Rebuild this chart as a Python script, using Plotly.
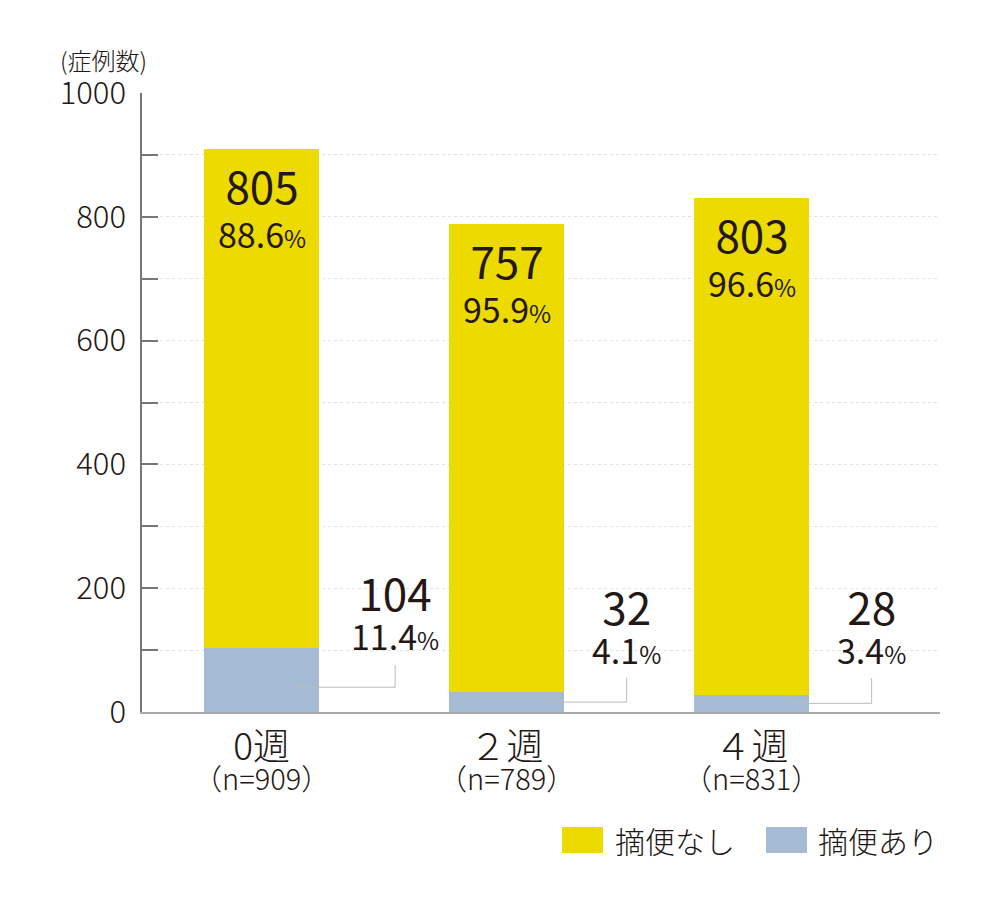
import plotly.graph_objects as go

# ---- data ----
categories = ["0週", "２週", "４週"]
n_total = [909, 789, 831]
no_vals = [805, 757, 803]          # 摘便なし
no_pct = ["88.6", "95.9", "96.6"]
yes_vals = [104, 32, 28]           # 摘便あり
yes_pct = ["11.4", "4.1", "3.4"]
y_tick_vals = list(range(0, 1001, 100))
y_tick_text = [str(v) if v % 200 == 0 else "" for v in y_tick_vals]
series_names = ["摘便なし", "摘便あり"]

# ---- style ----
YELLOW = "#EDDA00"
BLUE = "#A5BBD3"
TXT = "#231815"
FONT = "Noto Sans CJK JP"
W, H = 1000, 900
OFF = 8                              # page offset of the figure
L, T = 142 - OFF, 93 - OFF
PW, PH = 798, 619
R, B = W - L - PW, H - T - PH
BAR_W = 0.47
label_dx = [0.545, 0.49, 0.49]      # horizontal offset of outside labels
label_bottom = [81, 58, 58]         # y where outside label bottom sits
leader_top = [76, 55, 55]
leader_y = [40, 16, 14]
leader_x0 = 0.145

xs = list(range(len(categories)))
tick_labels = [f"<span style='font-size:37px'>{c}</span><br><span style='font-size:29px'>（n={n}）</span>"
               for c, n in zip(categories, n_total)]

fig = go.Figure()
fig.add_trace(go.Bar(x=xs, y=yes_vals, name=series_names[1], marker=dict(color=BLUE, line=dict(width=0)),
                     width=BAR_W, showlegend=False, hoverinfo="skip"))
fig.add_trace(go.Bar(x=xs, y=no_vals, name=series_names[0], marker=dict(color=YELLOW, line=dict(width=0)),
                     width=BAR_W, showlegend=False, hoverinfo="skip"))

annotations = []
shapes = []
for i in xs:
    total = no_vals[i] + yes_vals[i]
    annotations.append(dict(
        x=i, y=total, xref="x", yref="y", yanchor="top", xanchor="center", yshift=-2,
        text=f"<span style='font-size:44px'>{no_vals[i]}</span><br>{no_pct[i]}<span style='font-size:24px'>%</span>",
        showarrow=False, font=dict(family=FONT, size=34, color=TXT, weight=400), align="center"))
    annotations.append(dict(
        x=i + label_dx[i], y=label_bottom[i], xref="x", yref="y", yanchor="bottom", xanchor="center",
        text=f"<span style='font-size:44px'>{yes_vals[i]}</span><br><span style='font-size:34px'>{yes_pct[i]}</span><span style='font-size:24px'>%</span>",
        showarrow=False, font=dict(family=FONT, size=30, color=TXT, weight=400), align="center"))
    shapes.append(dict(type="line", xref="x", yref="y", x0=i + leader_x0, x1=i + label_dx[i],
                       y0=leader_y[i], y1=leader_y[i], line=dict(color="#BBBBBB", width=1)))
    shapes.append(dict(type="line", xref="x", yref="y", x0=i + label_dx[i], x1=i + label_dx[i],
                       y0=leader_y[i], y1=leader_top[i], line=dict(color="#BBBBBB", width=1)))


def px_x(p):
    return (p - OFF - L) / PW


def px_y(p):
    return (T + PH - (p - OFF)) / PH


# unit label
annotations.append(dict(x=px_x(58), y=px_y(59), xref="paper", yref="paper",
                        xanchor="left", yanchor="middle", text="(症例数)", showarrow=False,
                        font=dict(family=FONT, size=24, color=TXT, weight=300)))

# custom legend
legend_items = [(series_names[0], YELLOW, 562, 613), (series_names[1], BLUE, 766, 816)]
for name, col, sx, tx in legend_items:
    shapes.append(dict(type="rect", xref="paper", yref="paper", x0=px_x(sx), x1=px_x(sx + 41),
                       y0=px_y(853), y1=px_y(827), fillcolor=col, line=dict(width=0)))
    annotations.append(dict(x=px_x(tx), y=px_y(840), xref="paper", yref="paper", xanchor="left",
                            yanchor="middle", text=name, showarrow=False,
                            font=dict(family=FONT, size=30, color=TXT, weight=300)))

fig.update_layout(
    width=W, height=H, barmode="stack",
    margin=dict(l=L, r=R, t=T, b=B, autoexpand=False),
    paper_bgcolor="white", plot_bgcolor="white",
    font=dict(family=FONT, color=TXT),
    annotations=annotations, shapes=shapes,
    xaxis=dict(range=[-0.488, 2.769], tickvals=xs, ticktext=tick_labels, showgrid=False,
               showline=True, linecolor="#AAAAAA", linewidth=2, ticks="", zeroline=False,
               ticklabelstandoff=18,
               tickfont=dict(family=FONT, size=23, color=TXT, weight=300)),
    yaxis=dict(range=[0, 1000], tickvals=y_tick_vals, ticktext=y_tick_text, showgrid=True,
               gridcolor="#E2E2E2", griddash="dot", gridwidth=1, showline=True, linecolor="#777777",
               linewidth=1.5, ticks="inside", ticklen=16, tickcolor="#777777", tickwidth=1.5,
               zeroline=False, ticklabelstandoff=8,
               tickfont=dict(family=FONT, size=31, color=TXT, weight=300)),
)

fig.write_html("out.html")
